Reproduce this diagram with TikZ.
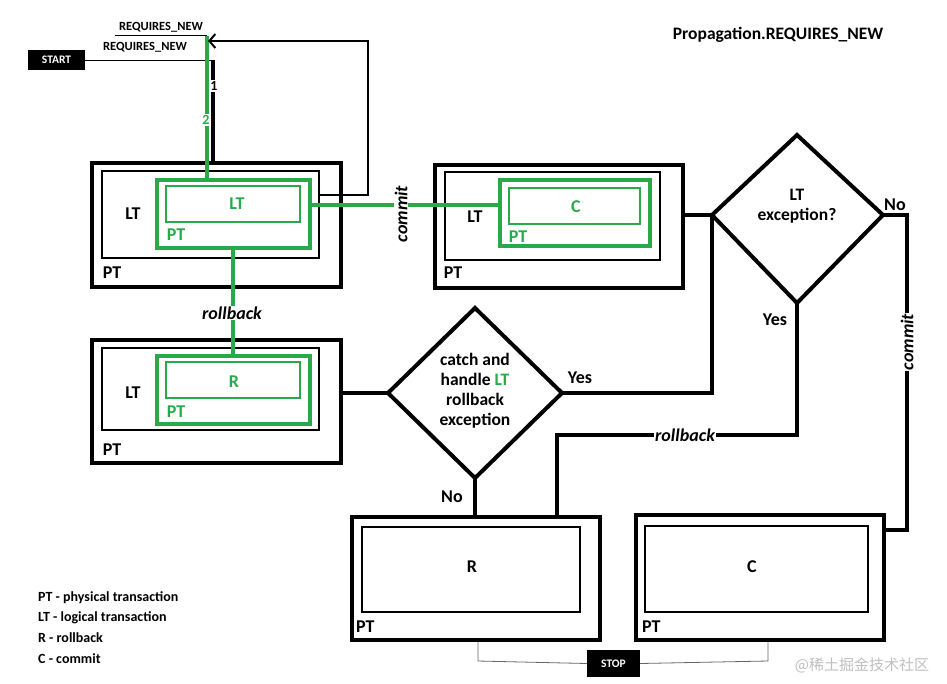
\documentclass[tikz,border=0pt]{standalone}
\usepackage{fontspec}
\usetikzlibrary{arrows.meta}
\setmainfont{Carlito}
\newfontfamily\cjk{Noto Sans CJK SC}
\definecolor{gr}{RGB}{40,170,75}
\begin{document}
\begin{tikzpicture}[x=1pt,y=-1pt,
  thk/.style={line width=4pt},
  med/.style={line width=2.5pt},
  thn/.style={line width=0.8pt},
  lbl/.style={font=\bfseries\fontsize{18}{20}\selectfont, inner sep=0pt},
  it/.style={fill=white,font=\bfseries\itshape\fontsize{18}{20}\selectfont,inner sep=1pt},
  sm/.style={font=\bfseries\fontsize{12.5}{14}\selectfont, inner sep=1pt},
  term/.style={fill=black,text=white,font=\bfseries\fontsize{11.5}{13}\selectfont,inner sep=0pt},
  dia/.style={thk,draw}]
\useasboundingbox (0,0) rectangle (947,683);
% START / STOP
\node[term,minimum width=57pt,minimum height=20pt] (start) at (56.5,60) {START};
\node[term,minimum width=53pt,minimum height=27pt] (stop) at (613.5,663.5) {STOP};
\coordinate (sj) at (213,60);
\draw[thn] (start.east) -- (sj);
\node[sm,anchor=south] (rq1) at (161,33) {REQUIRES\_NEW};
\draw[thn] (115,35) -- (207,35);
\node[sm] (rq2) at (145,47) {REQUIRES\_NEW};
% Box 1
\draw[thk] (92,163) rectangle (341,287);
\draw[med] (102,171) rectangle (319,258);
\draw[thk,gr] (157,180) rectangle (310,248);
\draw[med,gr] (166,186) rectangle (300,222);
\node[lbl] (lt1) at (133,214) {LT};
\node[lbl] (pt1) at (112,273) {PT};
\node[lbl,gr] (glt1) at (237,204) {LT};
\node[lbl,gr] (gpt1) at (176,235) {PT};
% Box 2
\draw[thk] (435,165) rectangle (683,288);
\draw[med] (445,172) rectangle (660,260);
\draw[thk,gr] (500,180) rectangle (650,246);
\draw[med,gr] (509,188) rectangle (640,224);
\node[lbl] (lt2) at (475,217) {LT};
\node[lbl] (pt2) at (453,273) {PT};
\node[lbl,gr] (c2) at (576,207) {C};
\node[lbl,gr] (gpt2) at (518,237) {PT};
% Box 3
\draw[thk] (92,340) rectangle (341,463);
\draw[med] (102,348) rectangle (319,430);
\draw[thk,gr] (157,356) rectangle (310,424);
\draw[med,gr] (166,362) rectangle (300,398);
\node[lbl] (lt3) at (133,393) {LT};
\node[lbl] (pt3) at (112,450) {PT};
\node[lbl,gr] (r3) at (234,382) {R};
\node[lbl,gr] (gpt3) at (176,412) {PT};
% Box R, Box C
\draw[thk] (352,517) rectangle (600,640);
\draw[med] (362,527) rectangle (580,612);
\node[lbl] (rr) at (472,567) {R};
\node[lbl,anchor=west] (ptr) at (356,627) {PT};
\draw[thk] (636,515) rectangle (884,640);
\draw[med] (645,526) rectangle (868,612);
\node[lbl] (cc) at (752,567) {C};
\node[lbl,anchor=west] (ptc) at (642,627) {PT};
% Diamonds
\draw[dia] (475,308) -- (562,393) -- (475,478) -- (388,393) -- cycle;
\node[lbl,align=center,font=\bfseries\fontsize{17.5}{20}\selectfont] (d1) at (475,391) {catch and\\handle \textcolor{gr}{LT}\\rollback\\exception};
\draw[dia] (797,135) -- (883,215) -- (797,303) -- (712,215) -- cycle;
\node[lbl,align=center,font=\bfseries\fontsize{17.5}{20}\selectfont] (d2) at (797,206) {LT\\exception?};
% connectors top
\draw[thk,gr] (207,36) -- (207,180);
\draw[thk] (sj) -- (213,163);
\node[lbl,fill=white,inner sep=1pt,font=\bfseries\fontsize{14}{16}\selectfont] (n1) at (214,86) {1};
\node[lbl,text=gr,fill=white,inner sep=1pt,font=\bfseries\fontsize{14}{16}\selectfont] (n2) at (206,120) {2};
\draw[line width=2pt,-{Straight Barb[length=6pt,width=14pt]}] (319,195) -- (368,195) -- (368,41) -- (208,41);
\draw[thk,gr] (310,205) -- (500,205);
\node[it,rotate=90] (cm) at (401,214) {commit};
\draw[thk,gr] (233,248) -- (233,356);
\node[it] (rb) at (232,313) {rollback};
% lower connectors
\draw[thk] (341,393) -- (388,393);
\draw[thk] (562,393) -- (712,393) -- (712,215);
\draw[thk] (683,215) -- (712,215);
\node[lbl] (y1) at (580,378) {Yes};
\draw[thk] (883,215) -- (907,215) -- (907,530) -- (884,530);
\node[lbl] (no2) at (895,205) {No};
\node[it,rotate=90] (cm2) at (907,342) {commit};
\draw[thk] (797,303) -- (797,435) -- (557,435) -- (557,517);
\node[lbl] (y2) at (775,320) {Yes};
\node[it] (rb2) at (685,435) {rollback};
\draw[thk] (475,478) -- (475,517);
\node[lbl] (no1) at (452,497) {No};
% stop lines
\draw[thn,gray!80!black] (478,642) -- (478,661) -- (stop.west);
\draw[thn,gray!80!black] (768,642) -- (768,661) -- (stop.east);
% title and legend
\node[font=\bfseries\fontsize{17.5}{20}\selectfont] (title) at (778,35) {Propagation.REQUIRES\_NEW};
\node[anchor=north west,align=left,font=\bfseries\fontsize{14}{20.7}\selectfont,inner sep=0pt] (leg) at (38,591) {PT - physical transaction\\LT - logical transaction\\R - rollback\\C - commit};
\node[text=gray!50,font=\cjk\fontsize{15}{17}\selectfont] (wm) at (862,665) {@稀土掘金技术社区};
\end{tikzpicture}
\end{document}
